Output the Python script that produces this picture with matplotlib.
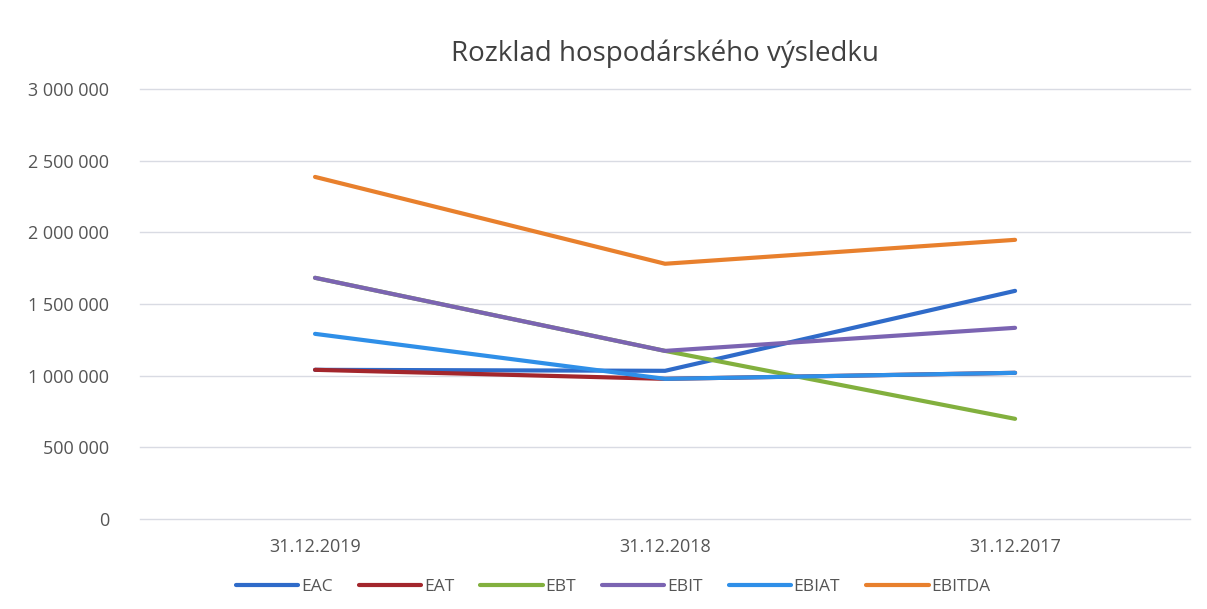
import matplotlib.pyplot as plt
from matplotlib.ticker import FuncFormatter

plt.rcParams['font.family'] = ['Open Sans', 'DejaVu Sans']

dates = ['31.12.2019', '31.12.2018', '31.12.2017']
eac = [1040000, 1033000, 1591000]
eat = [1040000, 977000, 1019000]
ebt = [1682000, 1172000, 698000]
ebit = [1682000, 1172000, 1333000]
ebiat = [1291000, 977000, 1019000]
ebitda = [2386000, 1780000, 1947000]

series = [
    ('EAC', eac, '#2f6bc9'),
    ('EAT', eat, '#a3262c'),
    ('EBT', ebt, '#82b03e'),
    ('EBIT', ebit, '#7b64b2'),
    ('EBIAT', ebiat, '#2f8fe8'),
    ('EBITDA', ebitda, '#e8802d'),
]

fig = plt.figure(figsize=(12.07, 6.09), dpi=100)
ax = fig.add_axes([0.116, 0.148, 0.87, 0.706])

x = range(len(dates))
for name, vals, col in series:
    ax.plot(x, vals, color=col, lw=3.0, label=name, solid_capstyle='round')

ax.set_ylim(0, 3000000)
ax.set_yticks(range(0, 3000001, 500000))
ax.yaxis.set_major_formatter(FuncFormatter(lambda v, p: f'{int(v):,}'.replace(',', ' ')))
ax.set_xlim(-0.5, 2.5)
ax.set_xticks(list(x))
ax.set_xticklabels(dates)
ax.grid(axis='y', color='#d9dbe3', lw=1, clip_on=False)
ax.set_axisbelow(True)
for s in ax.spines.values():
    s.set_visible(False)
ax.tick_params(length=0, labelsize=13, labelcolor='#555555')
ax.tick_params(axis='y', pad=22)
ax.tick_params(axis='x', pad=14)

ax.set_title('Rozklad hospodárského výsledku', fontsize=20, color='#404040', pad=20)

fig.legend(loc='lower center', bbox_to_anchor=(0.508, -0.003), ncol=6, frameon=False,
           fontsize=12.5, handlelength=3.6, handletextpad=0.15, columnspacing=1.5,
           labelcolor='#555555')

fig.savefig('out.png')
